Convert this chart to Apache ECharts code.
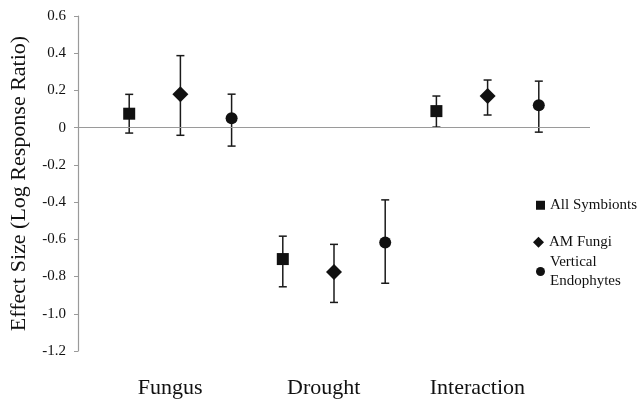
<!DOCTYPE html>
<html>
<head>
<meta charset="utf-8">
<script src="https://cdn.jsdelivr.net/npm/echarts@6/dist/echarts.min.js"></script>
<style>html,body{margin:0;padding:0;background:#fff}#c{width:644px;height:404px}</style>
</head>
<body>
<div id="c"></div>
<script>
const categories = ['Fungus', 'Drought', 'Interaction'];
const seriesNames = ['All Symbionts', 'AM Fungi', 'Vertical Endophytes'];
const allSymbionts     = [0.075, -0.706, 0.089];
const allSymbiontsLow  = [-0.029, -0.855, 0.003];
const allSymbiontsHigh = [0.179, -0.583, 0.170];
const amFungi          = [0.180, -0.775, 0.170];
const amFungiLow       = [-0.041, -0.939, 0.068];
const amFungiHigh      = [0.387, -0.627, 0.256];
const vertEndo         = [0.050, -0.617, 0.120];
const vertEndoLow      = [-0.099, -0.836, -0.024];
const vertEndoHigh     = [0.180, -0.388, 0.250];

const means = [allSymbionts, amFungi, vertEndo];
const lows = [allSymbiontsLow, amFungiLow, vertEndoLow];
const highs = [allSymbiontsHigh, amFungiHigh, vertEndoHigh];
const symbols = ['rect', 'diamond', 'circle'];
const symbolSizes = [12, 16, 12];
const FONT = '"Liberation Serif", "Times New Roman", serif';
const INK = '#111111';

function slot(g, s) { return g * 3 + s + 1; }

const series = [];
seriesNames.forEach((name, s) => {
  series.push({
    type: 'custom',
    name: name + ' error',
    z: 2,
    silent: true,
    data: categories.map((c, g) => [slot(g, s), lows[s][g], highs[s][g]]),
    renderItem: function (params, api) {
      const x = api.value(0);
      const lo = api.coord([x, api.value(1)]);
      const hi = api.coord([x, api.value(2)]);
      const w = 4;
      const st = { stroke: '#1a1a1a', lineWidth: 1.5 };
      return {
        type: 'group',
        children: [
          { type: 'line', shape: { x1: lo[0], y1: lo[1], x2: hi[0], y2: hi[1] }, style: st },
          { type: 'line', shape: { x1: lo[0] - w, y1: lo[1], x2: lo[0] + w, y2: lo[1] }, style: st },
          { type: 'line', shape: { x1: hi[0] - w, y1: hi[1], x2: hi[0] + w, y2: hi[1] }, style: st }
        ]
      };
    }
  });
  series.push({
    type: 'scatter',
    name: name,
    z: 3,
    symbol: symbols[s],
    symbolSize: symbolSizes[s],
    itemStyle: { color: INK, opacity: 1 },
    data: categories.map((c, g) => [slot(g, s), means[s][g]]),
    markLine: s === 0 ? {
      silent: true,
      symbol: 'none',
      label: { show: false },
      lineStyle: { color: '#9a9a9a', width: 1.2, type: 'solid' },
      data: [{ yAxis: 0 }]
    } : undefined
  });
});

const labelPos = categories.map((c, g) => g * 3 + 2 - 0.2);

const legendBase = {
  orient: 'vertical',
  padding: 0,
  itemGap: 0,
  selectedMode: false,
  itemStyle: { opacity: 1, color: INK },
  textStyle: { fontFamily: FONT, fontSize: 15, color: INK, lineHeight: 18.5 }
};

const option = {
  animation: false,
  backgroundColor: '#fff',
  grid: { left: 77, right: 54, top: 16, bottom: 53 },
  xAxis: {
    type: 'value',
    min: 0,
    max: 10,
    axisLine: { show: false },
    axisTick: { show: false },
    splitLine: { show: false },
    axisLabel: {
      customValues: labelPos,
      margin: 26,
      fontFamily: FONT,
      fontSize: 22,
      color: INK,
      formatter: function (v) {
        const g = Math.round((v + 0.2 - 2) / 3);
        return categories[g] || '';
      }
    }
  },
  yAxis: {
    type: 'value',
    min: -1.2,
    max: 0.6,
    interval: 0.2,
    name: 'Effect Size (Log Response Ratio)',
    nameLocation: 'middle',
    nameGap: 48,
    nameTextStyle: { fontFamily: FONT, fontSize: 22, color: INK },
    axisLine: { show: true, lineStyle: { color: '#9a9a9a', width: 1.2 } },
    axisTick: { show: true, length: 4, lineStyle: { color: '#9a9a9a' } },
    splitLine: { show: false },
    axisLabel: {
      margin: 12,
      fontFamily: FONT,
      fontSize: 15,
      color: INK,
      formatter: function (v) { return Math.abs(v) < 1e-9 ? '0' : v.toFixed(1); }
    }
  },
  legend: [
    Object.assign({}, legendBase, { left: 536, top: 196, itemWidth: 9, itemHeight: 9,
      data: [{ name: seriesNames[0], icon: 'rect' }] }),
    Object.assign({}, legendBase, { left: 533, top: 233, itemWidth: 11, itemHeight: 11,
      data: [{ name: seriesNames[1], icon: 'diamond' }] }),
    Object.assign({}, legendBase, { left: 536, top: 253, itemWidth: 9, itemHeight: 9,
      formatter: function (n) { return n.replace(' ', '\n'); },
      data: [{ name: seriesNames[2], icon: 'circle' }] })
  ],
  series: series
};

const chart = echarts.init(document.getElementById('c'), null, { renderer: 'canvas' });
chart.setOption(option);
</script>
</body>
</html>
